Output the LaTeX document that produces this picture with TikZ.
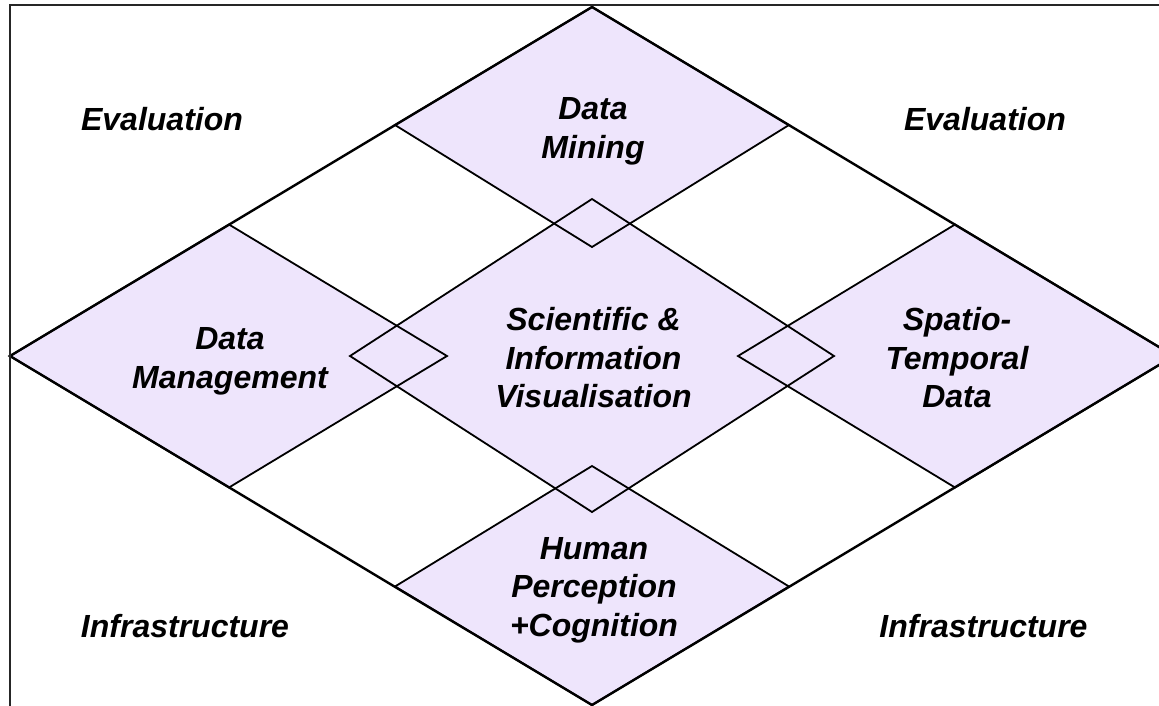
\documentclass[tikz,border=0pt]{standalone}
\usepackage{fontspec}
\setmainfont{Liberation Sans}
\definecolor{lav}{RGB}{238,229,252}
\begin{document}
\begin{tikzpicture}[x=1pt,y=-1pt,
  cellfill/.style={fill=lav},
  celledge/.style={draw=black,line width=1.8pt,line join=miter},
  outeredge/.style={draw=black,line width=2.4pt,line join=miter},
  framestyle/.style={draw=black!85,line width=2.6pt},
  lbl/.style={font=\fontsize{32}{38.5}\selectfont\bfseries\itshape,align=center,inner sep=0pt,anchor=north},
]
\useasboundingbox (0,0) rectangle (1159,705);
\clip (0,0) rectangle (1159,705);
\fill[white] (0,0) rectangle (1159,705);
% outer diamond
\coordinate (oT) at (592,7);
\coordinate (oL) at (10,356);
\coordinate (oB) at (592,705);
\coordinate (oR) at (1174,356);
% data mining
\coordinate (mT) at (592,7);
\coordinate (mL) at (395,125);
\coordinate (mB) at (592,247);
\coordinate (mR) at (789,125);
% data management
\coordinate (gL) at (10,356);
\coordinate (gT) at (229,224.5);
\coordinate (gR) at (447,356);
\coordinate (gB) at (229,487.5);
% spatio-temporal
\coordinate (sL) at (738,356);
\coordinate (sT) at (955,224.5);
\coordinate (sR) at (1174,356);
\coordinate (sB) at (955,487.5);
% centre
\coordinate (cT) at (592,199);
\coordinate (cL) at (350,356);
\coordinate (cB) at (592,512);
\coordinate (cR) at (834,356);
% human perception
\coordinate (hT) at (592,466);
\coordinate (hL) at (395,586.5);
\coordinate (hB) at (592,705);
\coordinate (hR) at (789,586.5);
% fills
\path[cellfill] (mT) -- (mR) -- (mB) -- (mL) -- cycle;
\path[cellfill] (gT) -- (gR) -- (gB) -- (gL) -- cycle;
\path[cellfill] (sT) -- (sR) -- (sB) -- (sL) -- cycle;
\path[cellfill] (cT) -- (cR) -- (cB) -- (cL) -- cycle;
\path[cellfill] (hT) -- (hR) -- (hB) -- (hL) -- cycle;
% edges
\path[celledge] (mT) -- (mR) -- (mB) -- (mL) -- cycle;
\path[celledge] (gT) -- (gR) -- (gB) -- (gL) -- cycle;
\path[celledge] (sT) -- (sR) -- (sB) -- (sL) -- cycle;
\path[celledge] (cT) -- (cR) -- (cB) -- (cL) -- cycle;
\path[celledge] (hT) -- (hR) -- (hB) -- (hL) -- cycle;
\path[outeredge] (oT) -- (oR) -- (oB) -- (oL) -- cycle;
% frame
\coordinate (fBL) at (10,706);
\coordinate (fTL) at (10,5);
\coordinate (fTR) at (1160,5);
\path[framestyle] (fBL) -- (fTL) -- (fTR);
% labels
\node[lbl] (evalL) at (162,107.5) {Evaluation};
\node[lbl] (evalR) at (985,107.5) {Evaluation};
\node[lbl] (infL) at (185,614.5) {Infrastructure};
\node[lbl] (infR) at (983.5,614.5) {Infrastructure};
\node[lbl] (mining) at (593,97.5) {Data\\Mining};
\node[lbl] (mgmt) at (230,327.5) {Data\\Management};
\node[lbl] (vis) at (593.5,307.5) {Scientific \&\\Information\\Visualisation};
\node[lbl] (spatio) at (957,307.5) {Spatio-\\Temporal\\Data};
\node[lbl] (human) at (594,537) {Human\\Perception\\+Cognition};
\end{tikzpicture}
\end{document}
